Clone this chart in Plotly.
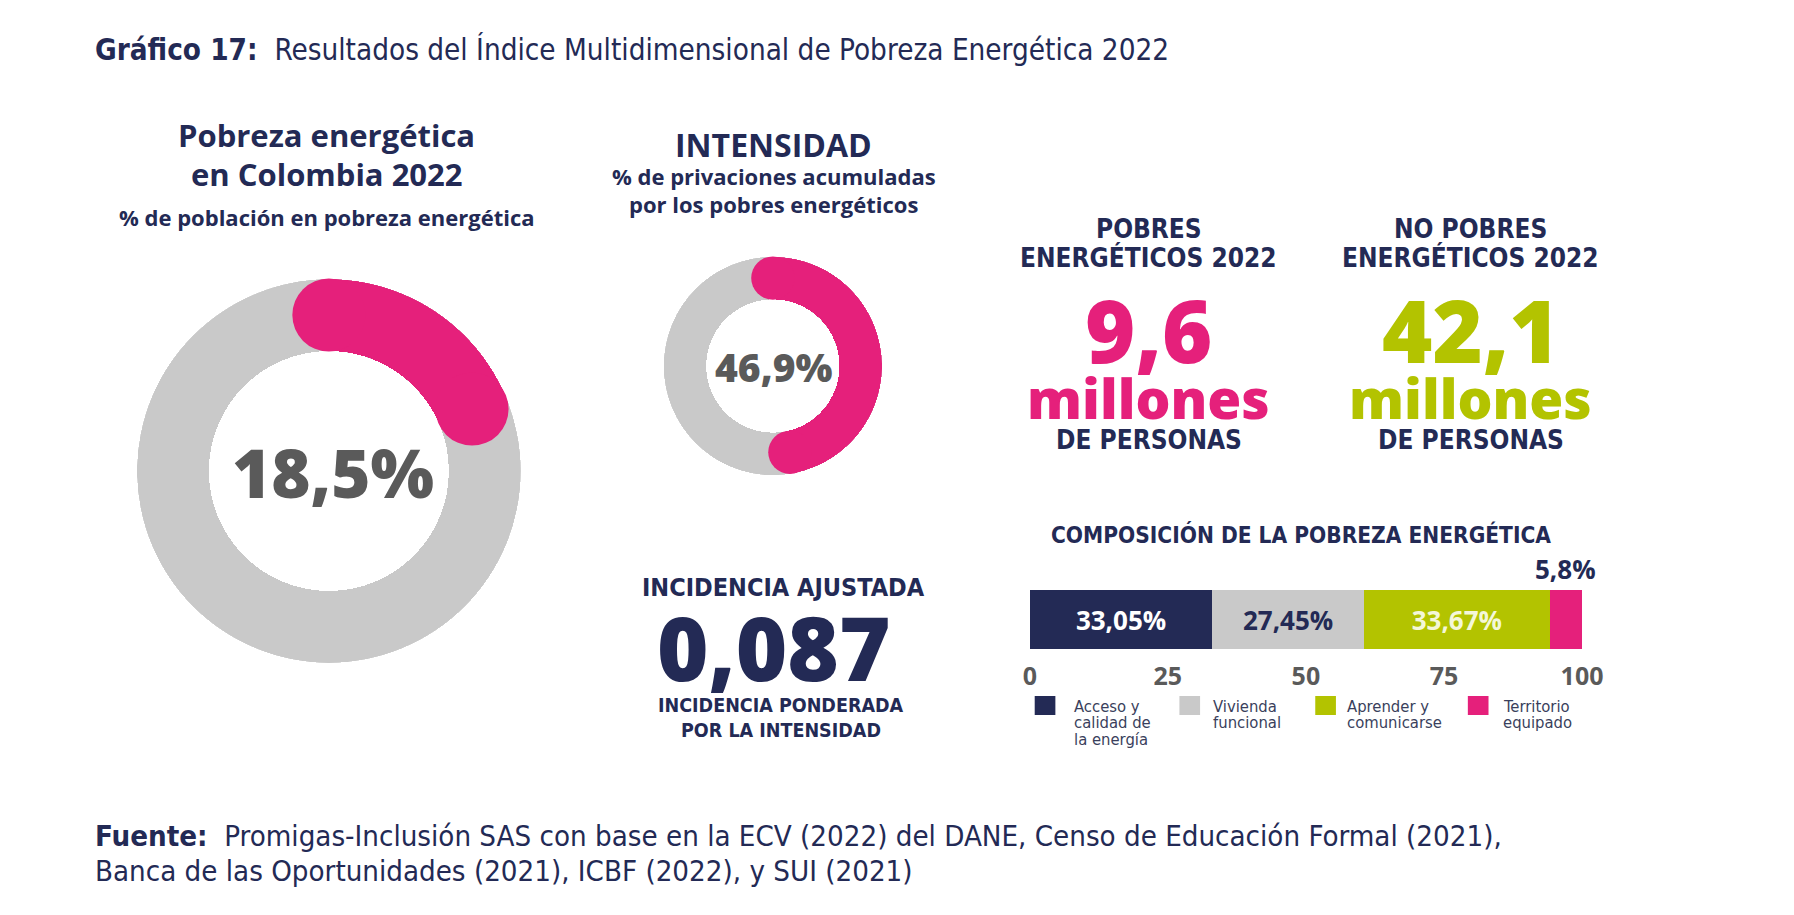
import plotly.graph_objects as go

W, H = 1794, 915

# ---------------- data ----------------
pobreza_pct = 18.5
intensidad_pct = 46.9
pobres_millones = 9.6
no_pobres_millones = 42.1
incidencia_ajustada = 0.087
comp_categories = ["Acceso y calidad de la energía", "Vivienda funcional",
                   "Aprender y comunicarse", "Territorio equipado"]
comp_legend_lines = [["Acceso y", "calidad de", "la energía"], ["Vivienda", "funcional"],
                     ["Aprender y", "comunicarse"], ["Territorio", "equipado"]]
comp_values = [33.05, 27.45, 33.67, 5.8]
tick_vals = [0, 25, 50, 75, 100]

# ---------------- style ----------------
NAVY = "#232a55"
PINK = "#e5207b"
GREEN = "#b3c300"
GREY = "#c9c9c9"
DGREY = "#5a5a5a"
comp_colors = [NAVY, GREY, GREEN, PINK]
comp_text_colors = ["white", NAVY, "#f4f7d8", NAVY]

WIDE = "Open Sans, Noto Sans, sans-serif"
NARROW = "Liberation Sans Narrow, DejaVu Sans Condensed, Roboto, sans-serif"


def fmt(v, d):
    return f"{v:.{d}f}".replace(".", ",")


def px(x):
    return x / W


def py(y):
    return 1 - y / H


fig = go.Figure()
annotations = []
shapes = []


def ann(text, x, y, size, color=NAVY, family=WIDE, weight=700, xanchor="center", align="center", yanchor="middle"):
    annotations.append(dict(text=text, x=px(x), y=py(y), xref="paper", yref="paper",
                            xanchor=xanchor, yanchor=yanchor, showarrow=False, align=align,
                            font=dict(family=family, size=size, color=color, weight=weight)))


def donut(name, value, cx, cy, R, hole):
    thick = 1 - hole
    fig.add_trace(go.Barpolar(r=[thick], base=[hole], theta=[180], width=[360],
                              marker=dict(color=GREY, line=dict(width=0)), subplot=name, hoverinfo="skip"))
    fig.add_trace(go.Barpolar(r=[thick], base=[hole], theta=[value * 3.6 / 2], width=[value * 3.6],
                              marker=dict(color=PINK, line=dict(width=0)), subplot=name, hoverinfo="skip"))
    fig.add_trace(go.Scatterpolar(r=[(1 + hole) / 2] * 2, theta=[0, value * 3.6], mode="markers",
                                  marker=dict(size=thick * R, color=PINK, line=dict(width=0)),
                                  subplot=name, hoverinfo="skip"))
    fig.layout[name] = dict(
        domain=dict(x=[px(cx - R), px(cx + R)], y=[py(cy + R), py(cy - R)]),
        radialaxis=dict(visible=False, range=[0, 1]),
        angularaxis=dict(visible=False, rotation=90, direction="clockwise"),
        bgcolor="rgba(0,0,0,0)")


# big donut
donut("polar", pobreza_pct, 327, 471, 195, 0.625)
ann(fmt(pobreza_pct, 1) + "%", 331, 472, 67, DGREY, WIDE, 800)
ann("Pobreza energética", 325, 135, 31)
ann("en Colombia 2022", 325, 174, 31)
ann("% de población en pobreza energética", 325, 217, 22)

# intensity donut
donut("polar2", intensidad_pct, 778, 366, 111, 0.61)
ann(fmt(intensidad_pct, 1) + "%", 779, 366, 39, DGREY, WIDE, 800)
ann("INTENSIDAD", 779, 145, 32)
ann("% de privaciones acumuladas", 779, 176, 22)
ann("por los pobres energéticos", 779, 204, 22)

# poor / non poor
for cx, head1, val, col in [(1160, "POBRES", pobres_millones, PINK),
                            (1487, "NO POBRES", no_pobres_millones, GREEN)]:
    ann(head1, cx, 229, 26, NAVY, NARROW, 700)
    ann("ENERGÉTICOS 2022", cx, 257, 26, NAVY, NARROW, 700)
    ann(fmt(val, 1), cx, 330, 86, col, WIDE, 800)
    ann("millones", cx, 397, 55, col, WIDE, 800)
    ann("DE PERSONAS", cx, 440, 26, NAVY, NARROW, 700)

# incidencia ajustada
ann("INCIDENCIA AJUSTADA", 789, 587, 25, NAVY, NARROW, 700)
ann(fmt(incidencia_ajustada, 3), 779, 647, 88, NAVY, WIDE, 800)
ann("INCIDENCIA PONDERADA", 786, 705, 19.5, NAVY, NARROW, 700)
ann("POR LA INTENSIDAD", 786, 730, 19.5, NAVY, NARROW, 700)

# composition bar
ann("COMPOSICIÓN DE LA POBREZA ENERGÉTICA", 1315, 534, 22.5, NAVY, NARROW, 700)
cum = 0
for i, (cat, v) in enumerate(zip(comp_categories, comp_values)):
    show_inside = v > 10
    fig.add_trace(go.Bar(
        x=[v], y=[0], orientation="h", name=cat, marker=dict(color=comp_colors[i], line=dict(width=0)),
        width=1, text=[fmt(v, 2) + "%"] if show_inside else None,
        textposition="inside" if show_inside else "none", insidetextanchor="middle",
        textfont=dict(family=WIDE, size=26, color=comp_text_colors[i], weight=700),
        xaxis="x", yaxis="y", hoverinfo="skip"))
    if not show_inside:
        annotations.append(dict(text=fmt(v, 1) + "%", x=cum + v / 2, xref="x", y=py(569), yref="paper",
                                xanchor="center", yanchor="middle", showarrow=False,
                                font=dict(family=WIDE, size=26, color=NAVY, weight=700)))
    cum += v

# manual legend
leg_sq_x = [1044, 1191, 1329, 1484]
leg_tx_x = [1082, 1223, 1359, 1518]
for i, lines in enumerate(comp_legend_lines):
    shapes.append(dict(type="rect", xref="paper", yref="paper",
                       x0=px(leg_sq_x[i]), x1=px(leg_sq_x[i] + 21),
                       y0=py(715), y1=py(696), fillcolor=comp_colors[i], line=dict(width=0)))
    for j, line in enumerate(lines):
        ann(line, leg_tx_x[i], 706 + j * 16.5, 16.5, "#3a3f5c", NARROW, 400, xanchor="left", align="left")

# title & source
ann("<b>Gráfico 17:</b>  Resultados del Índice Multidimensional de Pobreza Energética 2022",
    87, 50, 29.4, NAVY, NARROW, 400, xanchor="left", align="left")
ann("<b>Fuente:</b>  Promigas-Inclusión SAS con base en la ECV (2022) del DANE, Censo de Educación Formal (2021),",
    87, 836, 29.2, NAVY, NARROW, 400, xanchor="left", align="left")
ann("Banca de las Oportunidades (2021), ICBF (2022), y SUI (2021)",
    87, 871, 29.2, NAVY, NARROW, 400, xanchor="left", align="left")

fig.update_layout(
    width=W, height=H, margin=dict(l=0, r=0, t=0, b=0),
    paper_bgcolor="white", plot_bgcolor="rgba(0,0,0,0)",
    showlegend=False, barmode="stack", hovermode=False,
    uniformtext=dict(mode=False),
    xaxis=dict(domain=[px(1039), px(1600)], range=[0, 100], tickvals=tick_vals,
               ticktext=[str(t) for t in tick_vals], showgrid=False, zeroline=False, showline=False,
               ticks="", ticklabelstandoff=10,
               tickfont=dict(family=WIDE, size=25, color=DGREY, weight=700), fixedrange=True),
    yaxis=dict(domain=[py(649), py(590)], range=[-0.5, 0.5], visible=False, fixedrange=True),
    annotations=annotations, shapes=shapes,
)

fig.write_html("out.html")
